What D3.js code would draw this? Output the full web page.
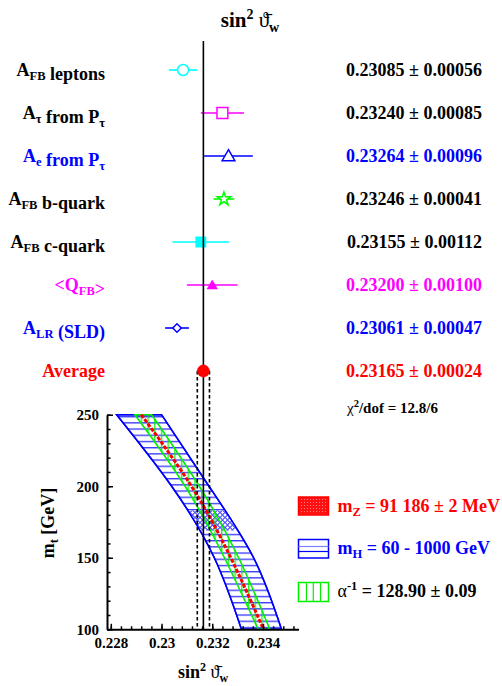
<!DOCTYPE html>
<html><head><meta charset="utf-8">
<script src="https://cdnjs.cloudflare.com/ajax/libs/d3/7.8.5/d3.min.js"></script>
<style>
body{margin:0;background:#fff}
svg{display:block}
text{font-family:"Liberation Serif","Times New Roman",serif;font-weight:bold}
</style>
</head><body>
<svg id="c" width="502" height="686"></svg>
<script>
// ---------- data ----------
const labelMain    = ["A", "A", "A", "A", "A", "<Q", "A", "Average"];
const labelSub     = ["FB", "τ", "e", "FB", "FB", "FB", "LR", ""];
const labelTail    = [" leptons", " from P", " from P", " b-quark", " c-quark", ">", " (SLD)", ""];
const labelTailSub = ["", "τ", "τ", "", "", "", "", ""];
const values = [0.23085, 0.23240, 0.23264, 0.23246, 0.23155, 0.23200, 0.23061, 0.23165];
const errors = [0.00056, 0.00085, 0.00096, 0.00041, 0.00112, 0.00100, 0.00047, 0.00024];
const markerShape = ["circle", "square", "triangle", "star", "square", "triangle", "diamond", "circle"];
const markerFilled = [false, false, false, false, true, true, false, true];
const markerColor = ["#00ffff", "#ff00ff", "#0000ff", "#00ff00", "#00ffff", "#ff00ff", "#0000ff", "#ff0000"];
const textColor = ["#000000", "#000000", "#0000ff", "#000000", "#000000", "#ff00ff", "#0000ff", "#ff0000"];
const averageValue = 0.23165, averageError = 0.00024;
const chi2Text = "/dof = 12.8/6";

const xTicks = [0.228, 0.230, 0.232, 0.234];
const xTickLabels = ["0.228", "0.23", "0.232", "0.234"];
const xMinor = d3.range(0, 19).map(i => +(0.228 + i * 0.0004).toFixed(4));
const yTicks = [100, 150, 200, 250];
const yMinor = d3.range(100, 251, 10);

// band edges [sin2, mt]
const blueLeft  = [[0.22823,250],[0.23040,200],[0.23208,150],[0.23315,100]];
const blueRight = [[0.23000,250],[0.23187,200],[0.23363,150],[0.23473,100]];
const redCenter = [[0.22920,250],[0.23118,200],[0.23273,150],[0.23402,100]];
const greenLeft = [[0.22895,250],[0.23093,200],[0.23248,150],[0.23381,100]];
const greenRight= [[0.22961,250],[0.23149,200],[0.23304,150],[0.23427,100]];
const mtHatch = [169, 183];

// ---------- setup ----------
const svg = d3.select("#c");
const defs = svg.append("defs");
const x = d3.scaleLinear().domain([0.22785, 0.2354]).range([107, 298.5]);
const y = d3.scaleLinear().domain([100, 250]).range([629.3, 414.7]);
const row = d3.scalePoint().domain(d3.range(values.length)).range([70, 371]);
const FS = "18px", FSsub = "12.5px";

// patterns
const pH = defs.append("pattern").attr("id","hH").attr("patternUnits","userSpaceOnUse")
  .attr("width",8).attr("height",6.2).attr("y",416);
pH.append("line").attr("x1",0).attr("x2",8).attr("y1",0.7).attr("y2",0.7).attr("stroke","#2020ff").attr("stroke-width",1.2);
const pX = defs.append("pattern").attr("id","xh").attr("patternUnits","userSpaceOnUse").attr("width",5).attr("height",5);
pX.append("rect").attr("width",5).attr("height",5).attr("fill","#fff");
pX.append("circle").attr("cx",2.5).attr("cy",2.5).attr("r",1.9).attr("fill","none").attr("stroke","#0000ff").attr("stroke-width",0.9);
const pG = defs.append("pattern").attr("id","gV").attr("patternUnits","userSpaceOnUse").attr("width",6.7).attr("height",10);
pG.append("line").attr("x1",0.7).attr("x2",0.7).attr("y1",0).attr("y2",10).attr("stroke","#00ee00").attr("stroke-width",1.3);
const pR = defs.append("pattern").attr("id","rD").attr("patternUnits","userSpaceOnUse").attr("width",3).attr("height",3);
pR.append("rect").attr("width",3).attr("height",3).attr("fill","#ff1010");
pR.append("circle").attr("cx",1.5).attr("cy",1.5).attr("r",0.6).attr("fill","#ff9090");

// ---------- title ----------
const title = svg.append("text").attr("x",250).attr("y",27).attr("text-anchor","middle").style("font-size","21px");
title.append("tspan").text("sin");
title.append("tspan").attr("dy",-8).style("font-size","14px").text("2");
title.append("tspan").attr("dy",8).text(" ");
title.append("tspan").style("font-weight","normal").text("ϑ\u0304");
title.append("tspan").attr("dy",5).style("font-size","14px").text("w");

// ---------- bottom panel bands ----------
const edge = d3.line().x(d => x(d[0])).y(d => y(d[1])).curve(d3.curveNatural);
function bandPath(left, right) {
  const a = edge(left), b = edge(right.slice().reverse());
  return a + "L" + b.slice(1) + "Z";
}
const bluePath = bandPath(blueLeft, blueRight);
defs.append("clipPath").attr("id","blueClip").append("path").attr("d", bluePath);
svg.append("path").attr("d", bluePath).attr("fill","url(#hH)").attr("stroke","#0000ff").attr("stroke-width",1.5);
svg.append("rect").attr("x",107).attr("width",192).attr("y",y(mtHatch[1])).attr("height",y(mtHatch[0])-y(mtHatch[1]))
  .attr("fill","url(#xh)").attr("clip-path","url(#blueClip)");
svg.append("path").attr("d", bluePath).attr("fill","none").attr("stroke","#0000ff").attr("stroke-width",1.5);
svg.append("path").attr("d", bandPath(greenLeft, greenRight)).attr("fill","url(#gV)").attr("fill-opacity",0.9)
  .attr("stroke","#00ee00").attr("stroke-width",1.6);
svg.append("path").attr("d", edge(redCenter)).attr("fill","none").attr("stroke","#ff0000").attr("stroke-width",3).attr("stroke-dasharray","4 1.5");

// ---------- axes ----------
const gy = svg.append("g").attr("transform","translate(107,0)");
gy.call(d3.axisLeft(y).tickValues(yTicks).tickSize(-6).tickSizeOuter(0).tickPadding(8).tickFormat(d3.format("d")));
const gyMinor = svg.append("g").attr("transform","translate(107,0)");
gyMinor.call(d3.axisLeft(y).tickValues(yMinor).tickSize(-3.5).tickSizeOuter(0).tickFormat(""));
gyMinor.select(".domain").remove();
const gx = svg.append("g").attr("transform","translate(0,629.3)");
gx.call(d3.axisBottom(x).tickValues(xTicks).tickSize(-5.5).tickSizeOuter(0).tickPadding(8.5).tickFormat((d,i) => xTickLabels[i]));
const gxMinor = svg.append("g").attr("transform","translate(0,629.3)");
gxMinor.call(d3.axisBottom(x).tickValues(xMinor).tickSize(-3).tickSizeOuter(0).tickFormat(""));
gxMinor.select(".domain").remove();
[gy, gx].forEach(g => {
  g.select(".domain").attr("stroke","#000").attr("stroke-width",2);
  g.selectAll("text").attr("fill","#000").style("font-size","15px").style("font-family",'"Liberation Serif","Times New Roman",serif').style("font-weight","bold");
});
[gy, gyMinor, gx, gxMinor].forEach(g => g.selectAll(".tick line").attr("stroke","#000").attr("stroke-width",1.5));

// axis titles
const yl = svg.append("text").attr("transform","translate(54,523) rotate(-90)").attr("text-anchor","middle").style("font-size",FS);
yl.append("tspan").text("m");
yl.append("tspan").attr("dy",4).style("font-size",FSsub).text("t");
yl.append("tspan").attr("dy",-4).text(" [GeV]");
const xl = svg.append("text").attr("x",203).attr("y",678).attr("text-anchor","middle").style("font-size",FS);
xl.append("tspan").text("sin");
xl.append("tspan").attr("dy",-7).style("font-size","12px").text("2");
xl.append("tspan").attr("dy",7).text(" ");
xl.append("tspan").style("font-weight","normal").text("ϑ\u0304");
xl.append("tspan").attr("dy",4).style("font-size","12px").text("w");

// ---------- top panel ----------
const lab = svg.append("g").selectAll("text").data(values).join("text")
  .attr("x",105).attr("y",(d,i)=>row(i)+6).attr("text-anchor","end").attr("fill",(d,i)=>textColor[i]).style("font-size",FS);
lab.each(function(d,i){
  const t = d3.select(this);
  t.append("tspan").text(labelMain[i]);
  if (labelSub[i]) { t.append("tspan").attr("dy",4).style("font-size",FSsub).text(labelSub[i]); t.append("tspan").attr("dy",-4).text(""); }
  t.append("tspan").text(labelTail[i]);
  if (labelTailSub[i]) t.append("tspan").attr("dy",4).style("font-size",FSsub).text(labelTailSub[i]);
});
svg.append("g").selectAll("text").data(values).join("text")
  .attr("x",482).attr("y",(d,i)=>row(i)+6).attr("text-anchor","end").attr("fill",(d,i)=>textColor[i]).style("font-size",FS)
  .text((d,i)=> d.toFixed(5) + " ± " + errors[i].toFixed(5));

// error bars
svg.append("g").selectAll("line").data(values).join("line")
  .attr("x1",(d,i)=>x(d-errors[i])).attr("x2",(d,i)=>x(d+errors[i]))
  .attr("y1",(d,i)=>row(i)).attr("y2",(d,i)=>row(i))
  .attr("stroke",(d,i)=>markerColor[i]).attr("stroke-width",1.6);

const symType = {circle:d3.symbolCircle, square:d3.symbolSquare, triangle:d3.symbolTriangle, star:d3.symbolStar, diamond:d3.symbolSquare};
function symSize(i){
  const s = markerShape[i];
  if (s==="circle") return i===7 ? 118 : 95;
  if (s==="square") return markerFilled[i] ? 108 : 118;
  if (s==="triangle") return markerFilled[i] ? 48 : 70;
  if (s==="star") return 55;
  return 36;
}
function drawMarker(i){
  svg.append("path")
    .attr("d", d3.symbol().type(symType[markerShape[i]]).size(symSize(i))())
    .attr("transform", `translate(${x(values[i])},${row(i) + (markerShape[i]==="triangle"?1:0)})` + (markerShape[i]==="diamond"?" rotate(45)":""))
    .attr("fill", markerFilled[i] ? markerColor[i] : "#fff")
    .attr("stroke", markerColor[i]).attr("stroke-width", markerFilled[i] ? 0.5 : 1.5);
}
d3.range(values.length - 1).forEach(drawMarker);

// central value lines
svg.append("line").attr("x1",x(averageValue)).attr("x2",x(averageValue)).attr("y1",41).attr("y2",629.3)
  .attr("stroke","#000").attr("stroke-width",1.6);
[averageValue - averageError, averageValue + averageError].forEach(v => {
  svg.append("line").attr("x1",x(v)).attr("x2",x(v)).attr("y1",row(7)).attr("y2",629.3)
    .attr("stroke","#000").attr("stroke-width",1.6).attr("stroke-dasharray","3.5 2.5");
});
drawMarker(7);

// chi2
const ch = svg.append("text").attr("x",347).attr("y",413).style("font-size","15px");
ch.append("tspan").style("font-weight","normal").text("χ");
ch.append("tspan").attr("dy",-6).style("font-size","10.5px").text("2");
ch.append("tspan").attr("dy",6).text(chi2Text);

// ---------- legend ----------
const legColor = ["#ff0000", "#0000ff", "#000000"];
const legY = [497, 539.5, 582.5];
svg.append("rect").attr("x",298.5).attr("y",legY[0]).attr("width",30).attr("height",18).attr("fill","url(#rD)").attr("stroke","#ff0000").attr("stroke-width",1.5);
svg.append("rect").attr("x",298.5).attr("y",legY[1]).attr("width",30).attr("height",18.5).attr("fill","#fff").attr("stroke","#0000ff").attr("stroke-width",1.5);
[7, 12].forEach(dy => svg.append("line").attr("x1",298.5).attr("x2",328.5).attr("y1",legY[1]+dy).attr("y2",legY[1]+dy).attr("stroke", dy===7?"#8080ff":"#0000ff").attr("stroke-width",1.2));
svg.append("rect").attr("x",298.5).attr("y",legY[2]).attr("width",30).attr("height",19).attr("fill","#fff").attr("stroke","#00ee00").attr("stroke-width",1.5);
[8, 14.8, 22].forEach(dx => svg.append("line").attr("x1",298.5+dx).attr("x2",298.5+dx).attr("y1",legY[2]).attr("y2",legY[2]+19).attr("stroke","#00ee00").attr("stroke-width",1.2));

const l1 = svg.append("text").attr("x",337.5).attr("y",511.5).attr("fill",legColor[0]).style("font-size",FS);
l1.append("tspan").text("m"); l1.append("tspan").attr("dy",4).style("font-size",FSsub).text("Z"); l1.append("tspan").attr("dy",-4).text(" = 91 186 ± 2 MeV");
const l2 = svg.append("text").attr("x",337.5).attr("y",554).attr("fill",legColor[1]).style("font-size",FS);
l2.append("tspan").text("m"); l2.append("tspan").attr("dy",4).style("font-size",FSsub).text("H"); l2.append("tspan").attr("dy",-4).text(" = 60 - 1000 GeV");
const l3 = svg.append("text").attr("x",337.5).attr("y",597).attr("fill",legColor[2]).style("font-size",FS);
l3.append("tspan").style("font-weight","normal").text("α"); l3.append("tspan").attr("dy",-7).style("font-size",FSsub).text("-1"); l3.append("tspan").attr("dy",7).text(" = 128.90 ± 0.09");
</script>
</body></html>
